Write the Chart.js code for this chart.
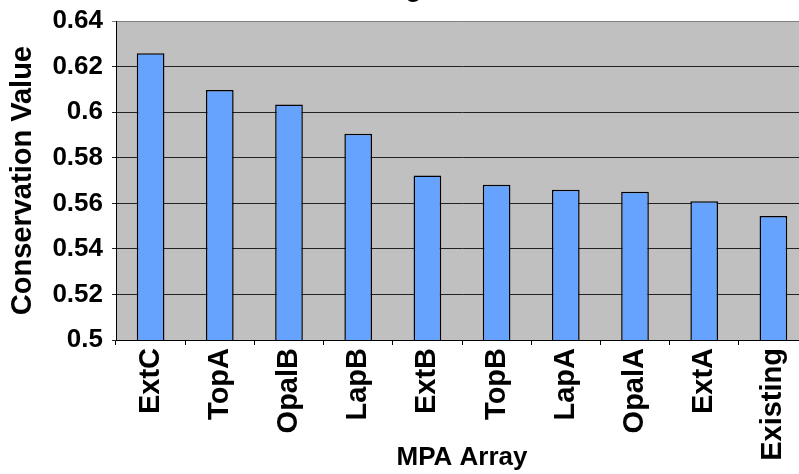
<!DOCTYPE html>
<html>
<head>
<meta charset="utf-8">
<script src="https://cdn.jsdelivr.net/npm/chart.js@4.4.1/dist/chart.umd.min.js"></script>
<style>
    html, body { margin: 0; padding: 0; background: #ffffff; }
    #frame { position: relative; width: 799px; height: 474px; overflow: hidden; }
    #holder { position: absolute; left: 0; top: -26px; width: 812px; height: 500px; }
</style>
</head>
<body>
<div id="frame">
    <div id="holder"><canvas id="mpa-chart"></canvas></div>
</div>
<script>
// MPA array conservation values
const titleText = 'Low Fishing Scenario';
const mpaArrays = ['ExtC', 'TopA', 'OpalB', 'LapB', 'ExtB', 'TopB', 'LapA', 'OpalA', 'ExtA', 'Existing'];
const conservationValues = [0.6259, 0.6098, 0.6034, 0.5906, 0.5722, 0.5682, 0.5660, 0.5651, 0.5609, 0.5545];
const yTicks = [0.5, 0.52, 0.54, 0.56, 0.58, 0.6, 0.62, 0.64];

const FONT = '"Liberation Sans", Arial, sans-serif';

// grey plot area like the old Excel charts
const plotBackground = {
    id: 'plotBackground',
    beforeDraw(chart) {
        const { ctx, chartArea } = chart;
        ctx.save();
        ctx.fillStyle = '#c0c0c0';
        ctx.fillRect(chartArea.left, chartArea.top, chartArea.right - chartArea.left, chartArea.bottom - chartArea.top);
        ctx.restore();
    }
};

const ctx = document.getElementById('mpa-chart').getContext('2d');
new Chart(ctx, {
    type: 'bar',
    data: {
        labels: mpaArrays,
        datasets: [{
            label: 'Conservation Value',
            data: conservationValues,
            backgroundColor: '#66a3ff',
            borderColor: '#000000',
            borderWidth: 1.5,
            borderSkipped: false,
            barPercentage: 0.4,
            categoryPercentage: 1.0
        }]
    },
    options: {
        responsive: true,
        maintainAspectRatio: false,
        animation: false,
        layout: { padding: { left: 0, right: 4, top: 0, bottom: 0 } },
        plugins: {
            legend: { display: false },
            tooltip: { enabled: false },
            title: {
                display: true,
                text: titleText,
                color: '#000',
                font: { family: FONT, size: 26, weight: 'bold' },
                padding: { top: 0, bottom: 16 }
            }
        },
        scales: {
            x: {
                grid: {
                    offset: true,
                    drawOnChartArea: false,
                    color: '#000',
                    tickLength: 5
                },
                border: { color: '#000', width: 1 },
                ticks: {
                    color: '#000',
                    font: { family: FONT, size: 29, weight: 'bold' },
                    minRotation: 90,
                    maxRotation: 90,
                    padding: 3,
                    autoSkip: false
                },
                title: {
                    display: true,
                    text: 'MPA Array',
                    color: '#000',
                    font: { family: FONT, size: 26, weight: 'bold' },
                    padding: { top: 2, bottom: 1 }
                },
                afterFit(scale) { scale.height = 134; }
            },
            y: {
                min: 0.5,
                max: 0.64,
                afterBuildTicks(scale) {
                    scale.ticks = yTicks.map(v => ({ value: v }));
                },
                grid: {
                    color: (c) => (c.tick && c.tick.value === 0.64 ? '#808080' : '#222222'),
                    tickLength: 4
                },
                border: { color: '#000', width: 1 },
                ticks: {
                    color: '#000',
                    font: { family: FONT, size: 26, weight: 'bold' },
                    padding: 9,
                    callback: (v) => String(parseFloat(Number(v).toFixed(2)))
                },
                title: {
                    display: true,
                    text: 'Conservation Value',
                    color: '#000',
                    font: { family: FONT, size: 29, weight: 'bold' },
                    padding: { top: 6, bottom: 0 }
                },
                afterFit(scale) { scale.width = 116; }
            }
        }
    },
    plugins: [plotBackground]
});
</script>
</body>
</html>
